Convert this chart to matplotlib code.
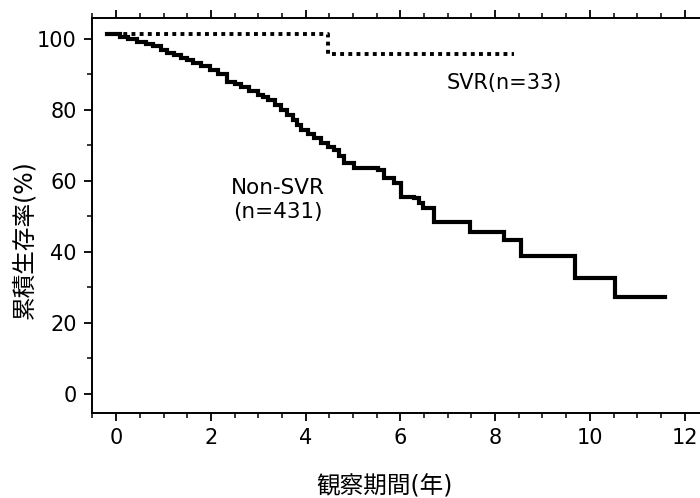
import matplotlib
matplotlib.use('Agg')
import matplotlib.pyplot as plt
from matplotlib.ticker import MultipleLocator

# DejaVu for latin glyphs, Noto CJK for the Japanese labels
plt.rcParams['font.family'] = ['DejaVu Sans', 'Noto Sans CJK JP']

# Non-SVR curve (years, cumulative survival %)
nonsvr_t = [-0.19, 0.08, 0.25, 0.44, 0.62, 0.78, 0.95, 1.08, 1.22, 1.36, 1.50,
            1.63, 1.80, 1.99, 2.15, 2.35, 2.50, 2.63, 2.80, 2.99, 3.10, 3.20,
            3.35, 3.47, 3.60, 3.73, 3.82, 3.90, 4.05, 4.17, 4.33, 4.47, 4.60,
            4.70, 4.81, 5.02, 5.53, 5.66, 5.87, 6.02, 6.29, 6.40, 6.48, 6.72,
            7.46, 8.18, 8.54, 9.68, 10.53, 11.59]
nonsvr_s = [101.4, 100.6, 100.0, 99.2, 98.6, 98.0, 97.0, 96.1, 95.4, 94.6, 94.0,
            93.2, 92.4, 91.3, 90.0, 87.9, 87.2, 86.5, 85.4, 84.2, 83.6, 82.8,
            81.4, 80.0, 78.6, 77.2, 75.8, 74.4, 73.2, 72.1, 70.8, 69.6, 68.7,
            67.0, 65.1, 63.7, 63.1, 60.8, 59.4, 55.5, 55.2, 53.8, 52.4, 48.5,
            45.6, 43.4, 38.9, 32.7, 27.3, 27.3]

# SVR curve
svr_t = [-0.19, 4.47, 8.40]
svr_s = [101.5, 95.8, 95.8]

xticks = [0, 2, 4, 6, 8, 10, 12]
yticks = [0, 20, 40, 60, 80, 100]

fig = plt.figure(figsize=(7.0, 4.98), dpi=100)
ax = fig.add_axes([92 / 700, 1 - 413 / 498, 1 - 92 / 700 + 0.003, (413 - 18) / 498])

ax.step(nonsvr_t, nonsvr_s, where='post', color='black', lw=3.0,
        solid_joinstyle='miter')
ax.step(svr_t, svr_s, where='post', color='black', lw=2.8,
        linestyle=(0, (1.0, 1.1)), dash_capstyle='butt')

ax.text(6.97, 87.6, 'SVR(n=33)', fontsize=15, ha='left', va='center')
ax.text(3.41, 54.6, 'Non-SVR\n(n=431)', fontsize=15.5, ha='center', va='center',
        linespacing=1.3)

ax.set_xlim(-0.51, 12.37)
ax.set_ylim(-5.4, 105.9)
ax.set_xticks(xticks)
ax.set_yticks(yticks)
ax.xaxis.set_minor_locator(MultipleLocator(0.5))
ax.yaxis.set_minor_locator(MultipleLocator(10))
ax.tick_params(which='major', direction='out', length=6, width=1.3,
               labelsize=15, top=True, labeltop=False, pad=5)
ax.tick_params(which='minor', direction='out', length=3.5, width=1.1, top=True)

ax.spines['right'].set_visible(False)
for s in ['left', 'top', 'bottom']:
    ax.spines[s].set_linewidth(1.4)

ax.set_xlabel('観察期間(年)', fontsize=17)
ax.xaxis.set_label_coords(0.48, -0.155)
fig.text(24 / 700, 1 - 240 / 498, '累積生存率(%)', fontsize=17, rotation=90,
         ha='center', va='center')

fig.savefig('out.png', dpi=100)
